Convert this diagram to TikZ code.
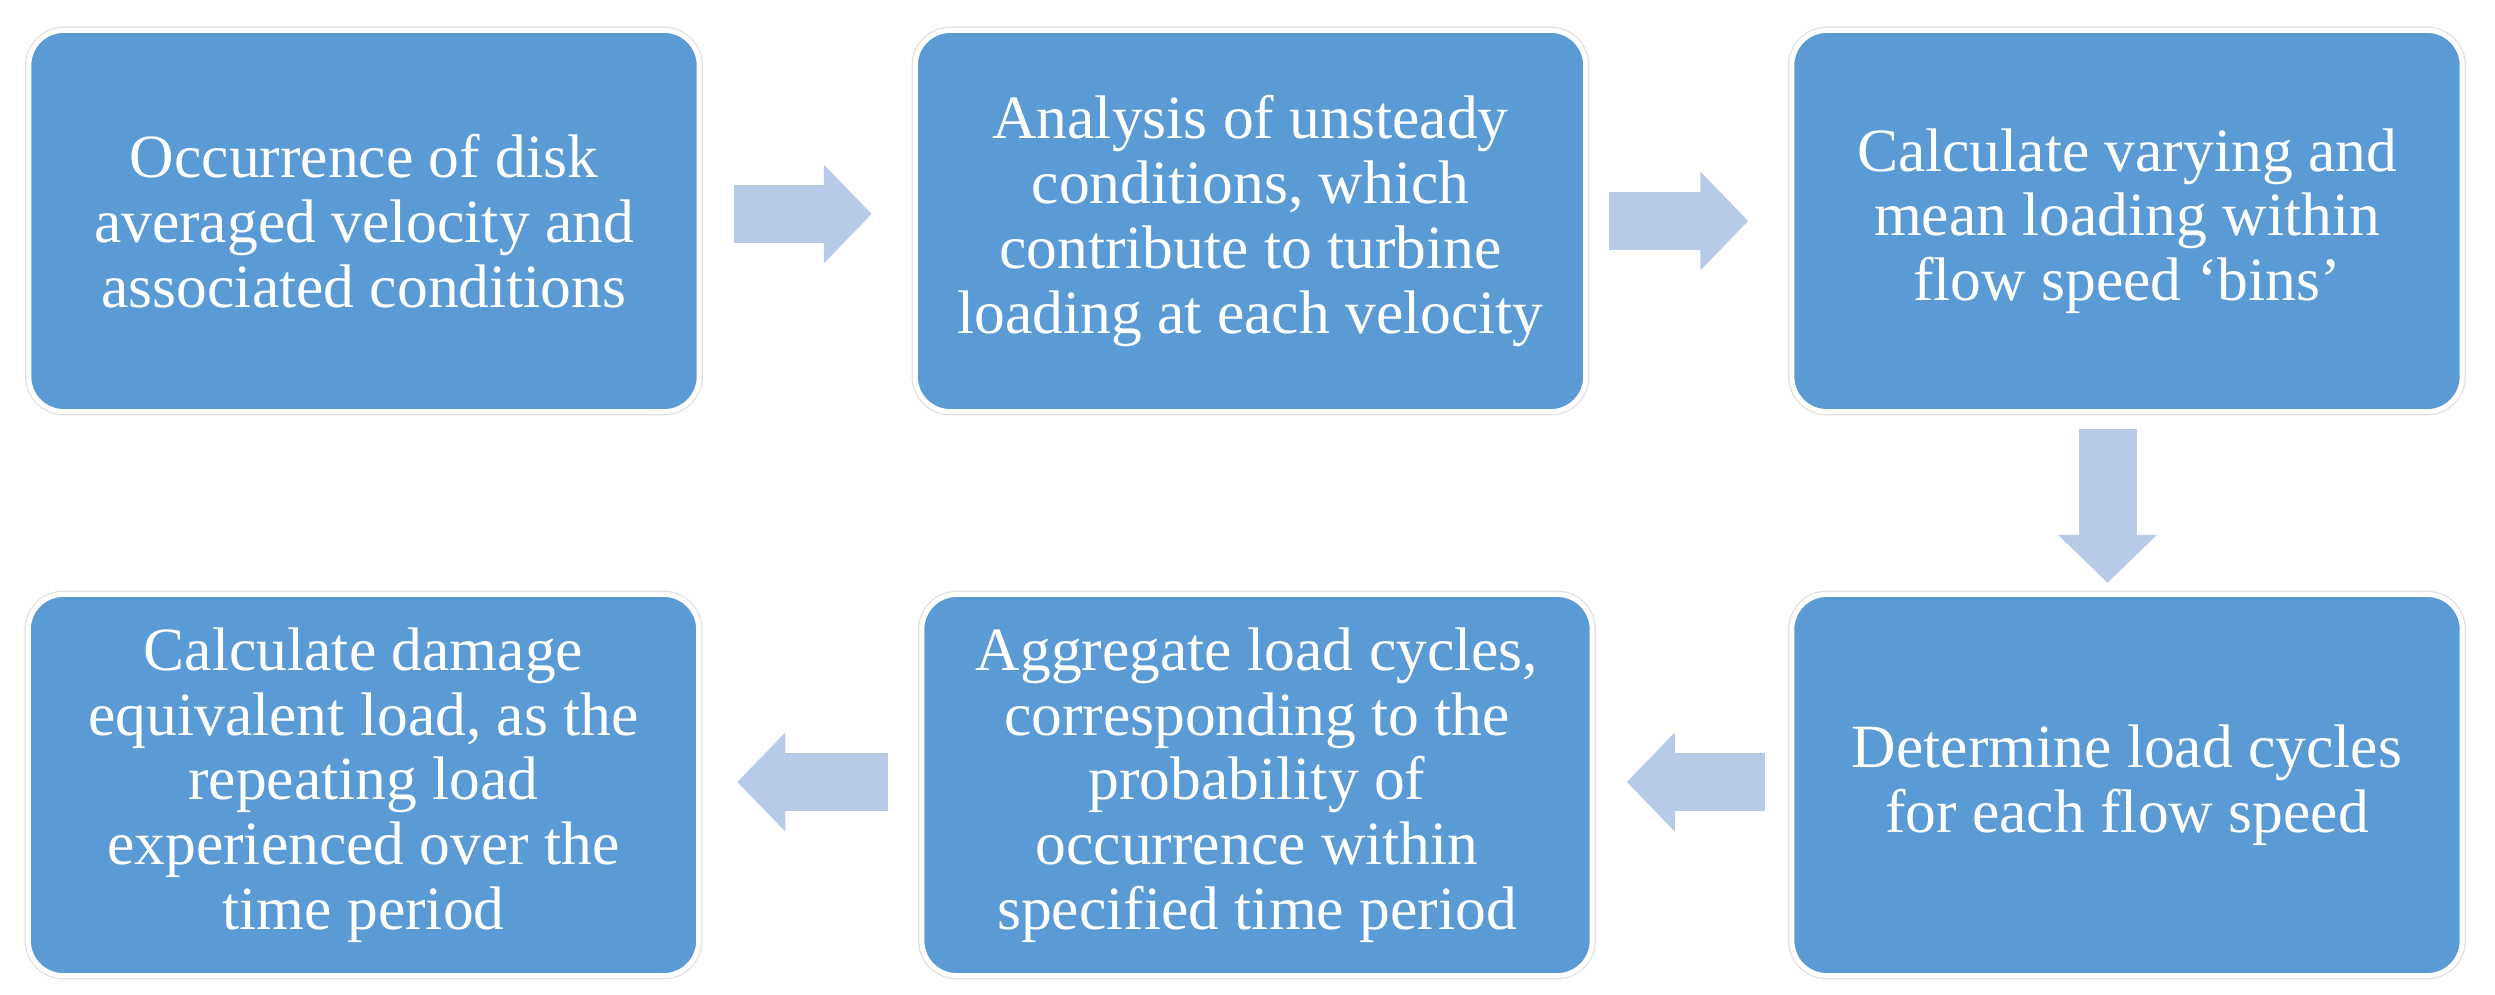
\documentclass[tikz,border=0pt]{standalone}
\usepackage{fontspec}
\setmainfont{Liberation Serif}
\usetikzlibrary{arrows.meta}
\definecolor{boxblue}{RGB}{91,155,213}
\definecolor{arrowblue}{RGB}{183,203,233}
\tikzset{
  stepbox/.style={rectangle, rounded corners=0.35cm, fill=boxblue,
    draw=white, line width=0.05cm,
    preaction={draw=black!12, line width=0.075cm},
    minimum width=6.7cm, minimum height=3.81cm, inner sep=0pt,
    text=white, align=center,
    font=\fontsize{17.5pt}{18.4pt}\selectfont},
  blockarrow/.style={draw=arrowblue, line width=0.58cm, line cap=butt,
    -{Triangle[length=0.48cm, width=0.96cm, fill=arrowblue]}}
}
\begin{document}
\begin{tikzpicture}[x=0.01cm, y=-0.01cm]
\useasboundingbox (0,0) rectangle (2495,994);
\node[stepbox] (b1) at (364,221) {Occurrence of disk\\averaged velocity and\\associated conditions};
\node[stepbox] (b2) at (1250.5,221) {Analysis of unsteady\\conditions, which\\contribute to turbine\\loading at each velocity};
\node[stepbox] (b3) at (2127,221) {Calculate varying and\\mean loading within\\flow speed ‘bins’};
\node[stepbox] (b4) at (2127,785) {Determine load cycles\\for each flow speed};
\node[stepbox] (b5) at (1257,785) {Aggregate load cycles,\\corresponding to the\\probability of\\occurrence within\\specified time period};
\node[stepbox] (b6) at (363.5,785) {Calculate damage\\equivalent load, as the\\repeating load\\experienced over the\\time period};
\draw[blockarrow, shorten <=0.32cm, shorten >=0.41cm] ([yshift=0.07cm]b1.east) -- ([yshift=0.07cm]b2.west);
\draw[blockarrow, shorten <=0.21cm, shorten >=0.41cm] (b2.east) -- (b3.west);
\draw[blockarrow, shorten <=0.15cm, shorten >=0.09cm] ([xshift=-0.195cm]b3.south) -- ([xshift=-0.195cm]b4.north);
\draw[blockarrow, shorten <=0.24cm, shorten >=0.32cm] ([yshift=0.03cm]b4.west) -- ([yshift=0.03cm]b5.east);
\draw[blockarrow, shorten <=0.31cm, shorten >=0.36cm] ([yshift=0.03cm]b5.west) -- ([yshift=0.03cm]b6.east);
\end{tikzpicture}
\end{document}
